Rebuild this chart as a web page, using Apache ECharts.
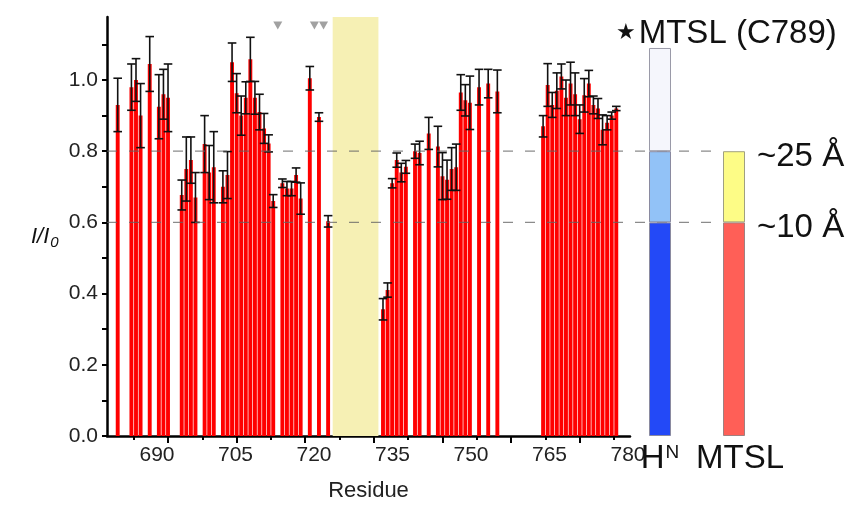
<!DOCTYPE html>
<html><head><meta charset="utf-8">
<script src="https://cdn.jsdelivr.net/npm/echarts@6/dist/echarts.min.js"></script>
<style>html,body{margin:0;padding:0;background:#fff}#c{width:850px;height:508px}</style>
</head><body><div id="c"></div>
<script>
// ---- data ----
const residues = [
  679, 682, 683, 684, 686, 688, 689, 690,
  693, 694, 695, 696, 698, 699, 700,
  702, 703, 704, 705, 706, 707, 708, 709, 710, 711, 712, 713,
  715, 716, 717, 718, 719, 721, 723, 725,
  737, 738, 739, 740, 741, 742, 744, 745, 747,
  749, 750, 751, 752, 753, 754, 755, 756, 758, 760, 762,
  772, 773, 774, 775, 776, 777, 778, 779, 780,
  781, 782, 783, 784, 785, 786, 787, 788
];
const ratios = [
  0.93, 0.98, 1.00, 0.90, 1.045, 0.925, 0.96, 0.95,
  0.677, 0.75, 0.775, 0.67, 0.82, 0.74, 0.755,
  0.70, 0.733, 1.05, 0.963, 0.90, 0.95, 1.058, 0.95, 0.91, 0.864, 0.822, 0.66,
  0.71, 0.695, 0.695, 0.733, 0.667, 1.005, 0.896, 0.603,
  0.356, 0.41, 0.71, 0.775, 0.74, 0.756, 0.80, 0.795, 0.85,
  0.813, 0.73, 0.72, 0.75, 0.755, 0.965, 0.943, 0.936, 0.98, 0.99, 0.968,
  0.87, 0.986, 0.93, 0.97, 1.01, 0.95, 0.99, 0.96, 0.89,
  0.957, 0.99, 0.93, 0.92, 0.86, 0.88, 0.90, 0.92
];
const errors = [
  0.075, 0.065, 0.06, 0.09, 0.077, 0.09, 0.07, 0.095,
  0.042, 0.09, 0.065, 0.07, 0.08, 0.076, 0.10,
  0.045, 0.066, 0.054, 0.055, 0.055, 0.045, 0.062, 0.046, 0.05, 0.042, 0.024, 0.018,
  0.012, 0.02, 0.02, 0.02, 0.044, 0.033, 0.012, 0.016,
  0.03, 0.02, 0.013, 0.02, 0.026, 0.018, 0.02, 0.033, 0.045,
  0.057, 0.066, 0.055, 0.06, 0.065, 0.05, 0.044, 0.075, 0.05, 0.04, 0.06,
  0.03, 0.06, 0.035, 0.05, 0.035, 0.05, 0.06, 0.06, 0.04,
  0.047, 0.037, 0.025, 0.028, 0.042, 0.02, 0.01, 0.006
];
const markedResidues = [714, 722, 724];      // grey triangles
const excludedRange = [726, 736];             // pale yellow band
const xTickLabels = [690, 705, 720, 735, 750, 765, 780];
const xMinorTicks = [682.5, 697.5, 712.5, 727.5, 742.5, 757.5, 772.5, 787.5];
const yTickLabels = [0, 0.2, 0.4, 0.6, 0.8, 1.0];
const yAllTicks = [0, 0.1, 0.2, 0.3, 0.4, 0.5, 0.6, 0.7, 0.8, 0.9, 1.0, 1.1];
const thresholds = [0.6, 0.8];
const hnSegments = [0.6, 0.2, 0.29];          // H^N key column
const mtslSegments = [0.6, 0.2];              // MTSL key column

// ---- chart ----
const FONT = 'Liberation Sans, Arial, Helvetica, sans-serif';
const yMax = 1.177;
const chart = echarts.init(document.getElementById('c'));

const hidden = { show: false };
const keyY = (gi) => ({ gridIndex: gi, type: 'value', min: 0, max: yMax, show: false });
const txt = (size, extra) => Object.assign({ fontSize: size, fontWeight: 'normal', color: '#111', fontFamily: FONT }, extra || {});

const option = {
  backgroundColor: '#fff',
  animation: false,
  textStyle: { fontFamily: FONT },
  title: [
    { text: '{a|I/I}{b|0}', left: 26, top: 218,
      textStyle: { fontWeight: 'normal', rich: {
        a: txt(22, { fontStyle: 'italic', lineHeight: 26 }),
        b: txt(15, { fontStyle: 'italic', padding: [12, 0, 0, 1] })
      } } },
    { text: '{s|★}{t|MTSL (C789)}', left: 611, top: 12,
      textStyle: { fontWeight: 'normal', rich: {
        s: txt(22, { fontFamily: 'DejaVu Sans', padding: [0, 3, 0, 0] }),
        t: txt(33)
      } } },
    { text: '~25 Å', left: 752, top: 135, textStyle: txt(33) },
    { text: '~10 Å', left: 752, top: 206, textStyle: txt(33) }
  ],
  grid: [
    { left: 107, right: 220, top: 17, bottom: 72 },   // main plot
    { left: 649, width: 22, top: 17, bottom: 72 },    // H^N key
    { left: 723, width: 22, top: 17, bottom: 72 },    // MTSL key
    { left: 107, width: 616, top: 17, bottom: 72 }    // dashed threshold overlay
  ],
  xAxis: [
    { gridIndex: 0, type: 'value', min: 676.66, max: 791.0,
      axisLine: { show: true, onZero: false, lineStyle: { color: '#000', width: 2.5 } },
      axisTick: { show: true, customValues: xTickLabels, length: 7, lineStyle: { color: '#000', width: 2 } },
      axisLabel: { show: false }, splitLine: { show: false },
      name: 'Residue', nameLocation: 'middle', nameGap: 44,
      nameTextStyle: txt(22, { color: '#222' }) },
    { gridIndex: 0, type: 'value', min: 680.446, max: 780.38, position: 'bottom',
      axisLine: { show: false }, axisTick: { show: false }, splitLine: { show: false },
      axisLabel: { show: true, customValues: xTickLabels, fontSize: 21, color: '#222', margin: 9, fontFamily: FONT,
        showMinLabel: true, showMaxLabel: true } },
    { gridIndex: 0, type: 'value', min: 676.66, max: 791.0, position: 'bottom',
      axisLine: { show: false }, splitLine: { show: false }, axisLabel: { show: false },
      axisTick: { show: true, customValues: xMinorTicks, length: 4, lineStyle: { color: '#000', width: 2 } } },
    { gridIndex: 1, type: 'category', data: ['HN'],
      axisLine: hidden, axisTick: hidden,
      axisLabel: { margin: 6, formatter: () => '{a|H}{b|N}',
        rich: { a: txt(33), b: txt(19, { padding: [0, 0, 12, 1] }) } } },
    { gridIndex: 2, type: 'category', data: ['MTSL'],
      axisLine: hidden, axisTick: hidden,
      axisLabel: { margin: 6, fontSize: 33, color: '#111', fontFamily: FONT, padding: [0, 0, 0, 12] } },
    { gridIndex: 3, type: 'value', min: 0, max: 1, show: false }
  ],
  yAxis: [
    { gridIndex: 0, type: 'value', min: 0, max: yMax,
      axisLine: { show: true, lineStyle: { color: '#000', width: 2.5 } },
      axisTick: { show: true, customValues: yAllTicks, length: 5, lineStyle: { color: '#000', width: 2 } },
      axisLabel: { customValues: yTickLabels, formatter: v => Number(v).toFixed(1),
        fontSize: 21, color: '#222', margin: 9, fontFamily: FONT },
      splitLine: { show: false } },
    keyY(1), keyY(2), keyY(3)
  ],
  series: [
    { type: 'custom', name: 'band', xAxisIndex: 0, yAxisIndex: 0, z: 1, silent: true,
      data: [excludedRange],
      renderItem: (params, api) => {
        const a = api.coord([api.value(0), 0]);
        const b = api.coord([api.value(1), 0]);
        const cs = params.coordSys;
        return { type: 'rect', shape: { x: a[0], y: cs.y, width: b[0] - a[0], height: cs.height },
                 style: { fill: '#f6f0b4' } };
      } },
    { type: 'bar', name: 'I/I0', xAxisIndex: 0, yAxisIndex: 0, z: 2,
      barWidth: 3.9, itemStyle: { color: '#ff0000' },
      data: residues.map((r, i) => [r, ratios[i]]) },
    { type: 'custom', name: 'err', xAxisIndex: 0, yAxisIndex: 0, z: 3, silent: true,
      data: residues.map((r, i) => [r, ratios[i], errors[i]]),
      renderItem: (params, api) => {
        const x = api.value(0), v = api.value(1), e = api.value(2);
        const t = api.coord([x, v + e]), b = api.coord([x, v - e]);
        const hw = 4.3, st = { stroke: '#111', lineWidth: 1.6 };
        return { type: 'group', children: [
          { type: 'line', shape: { x1: t[0], y1: t[1], x2: b[0], y2: b[1] }, style: st },
          { type: 'line', shape: { x1: t[0] - hw, y1: t[1], x2: t[0] + hw, y2: t[1] }, style: st },
          { type: 'line', shape: { x1: b[0] - hw, y1: b[1], x2: b[0] + hw, y2: b[1] }, style: st }
        ] };
      } },
    { type: 'scatter', name: 'marks', xAxisIndex: 0, yAxisIndex: 0, z: 3, silent: true,
      symbol: 'triangle', symbolRotate: 180, symbolSize: [9, 8],
      itemStyle: { color: '#8a8a8a' },
      data: markedResidues.map(r => [r, 1.153]) },
    { type: 'custom', name: 'thresholds', xAxisIndex: 5, yAxisIndex: 3, z: 4, silent: true,
      data: thresholds.map(t => [0, t]),
      renderItem: (params, api) => {
        const cs = params.coordSys;
        const y = api.coord([0, api.value(1)])[1];
        return { type: 'line', shape: { x1: cs.x, y1: y, x2: cs.x + cs.width, y2: y },
                 style: { stroke: 'rgba(100,100,100,0.75)', lineWidth: 1.2, lineDash: [10, 12] } };
      } },
    { type: 'bar', xAxisIndex: 3, yAxisIndex: 1, stack: 'hn', barWidth: '100%', z: 5,
      itemStyle: { color: '#2349f7', borderColor: '#8a8aa0', borderWidth: 1 }, data: [hnSegments[0]] },
    { type: 'bar', xAxisIndex: 3, yAxisIndex: 1, stack: 'hn', barWidth: '100%', z: 5,
      itemStyle: { color: '#92c2f7', borderColor: '#8a8aa0', borderWidth: 1 }, data: [hnSegments[1]] },
    { type: 'bar', xAxisIndex: 3, yAxisIndex: 1, stack: 'hn', barWidth: '100%', z: 5,
      itemStyle: { color: '#f5f6fc', borderColor: '#9a9aa8', borderWidth: 1 }, data: [hnSegments[2]] },
    { type: 'bar', xAxisIndex: 4, yAxisIndex: 2, stack: 'mtsl', barWidth: '100%', z: 5,
      itemStyle: { color: '#ff5f57', borderColor: '#a08080', borderWidth: 1 }, data: [mtslSegments[0]] },
    { type: 'bar', xAxisIndex: 4, yAxisIndex: 2, stack: 'mtsl', barWidth: '100%', z: 5,
      itemStyle: { color: '#fdfc86', borderColor: '#a0a080', borderWidth: 1 }, data: [mtslSegments[1]] }
  ]
};
chart.setOption(option);
</script>
</body></html>
